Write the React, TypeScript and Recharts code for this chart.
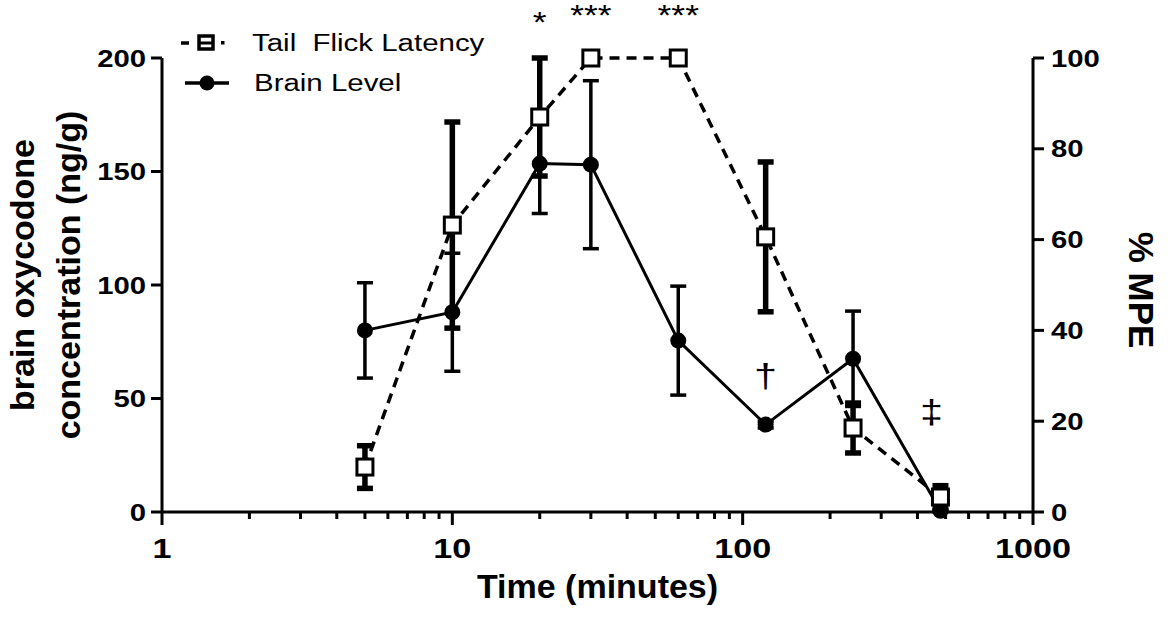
import React from "react";
import { ComposedChart, Line, XAxis, YAxis, ErrorBar, ReferenceDot } from "recharts";

const times = [5, 10, 20, 30, 60, 120, 240, 480];
const brainLevel = [80, 88, 153.5, 153, 75.5, 38.5, 67.5, 0.5];
const brainSem = [21, 26, 22, 37, 24, 1.5, 21, 0.5];
const tailFlick = [9.9, 63.2, 87, 100, 100, 60.6, 18.5, 3.3];
const tailFlickSem = [4.7, 22.7, 13, 0, 0, 16.5, 5.5, 2.5];

const xTicks = [
  1, 2, 3, 4, 5, 6, 7, 8, 9, 10, 20, 30, 40, 50, 60, 70, 80, 90, 100, 200, 300, 400, 500, 600, 700,
  800, 900, 1000,
];
const majorTicks = [1, 10, 100, 1000];
const leftTicks = [0, 50, 100, 150, 200];
const rightTicks = [0, 20, 40, 60, 80, 100];

// significance marks, placed in brain-level units
const annotations = [
  { time: 20, level: 211.5, text: "*" },
  { time: 30, level: 214.5, text: "***" },
  { time: 60, level: 214.5, text: "***" },
  { time: 120, level: 55, text: "\u2020" },
  { time: 447, level: 39, text: "\u2021" },
];

const data = times.map((t, i) => ({
  time: t,
  brain: brainLevel[i],
  brainErr: brainSem[i],
  tfl: tailFlick[i],
  tflErr: tailFlickSem[i],
}));

const FONT = "'Liberation Sans', Arial, sans-serif";
const STRETCH = 1.22;

const XTick = ({ x, y, payload }: any) => {
  const major = majorTicks.includes(payload.value);
  return (
    <g>
      <line x1={x} x2={x} y1={y} y2={y + (major ? 13 : 7)} stroke="#000" strokeWidth={3} />
      {major && (
        <text
          transform={`translate(${x},${y + 46}) scale(${STRETCH},1)`}
          textAnchor="middle"
          fontFamily={FONT}
          fontWeight="bold"
          fontSize={28}
          fill="#000"
        >
          {payload.value}
        </text>
      )}
    </g>
  );
};

const YTick = ({ x, y, payload, anchor }: any) => (
  <text
    transform={`translate(${x},${y}) scale(${STRETCH},1)`}
    textAnchor={anchor}
    dy="0.36em"
    fontFamily={FONT}
    fontWeight="bold"
    fontSize={24}
    fill="#000"
  >
    {payload.value}
  </text>
);

const SquareDot = ({ cx, cy }: any) => {
  if (cx == null || cy == null) return null;
  return <rect x={cx - 8} y={cy - 8} width={16} height={16} fill="#fff" stroke="#000" strokeWidth={3} />;
};

const CircleDot = ({ cx, cy }: any) => {
  if (cx == null || cy == null) return null;
  return <circle cx={cx} cy={cy} r={8} fill="#000" />;
};

const LeftLabel = ({ viewBox }: any) => {
  const cy = viewBox.y + viewBox.height / 2 - 10;
  return (
    <g fontFamily={FONT} fontWeight="bold" fontSize={34} fill="#000">
      <text transform={`translate(34,${cy}) rotate(-90)`} textAnchor="middle">
        brain oxycodone
      </text>
      <text transform={`translate(80,${cy}) rotate(-90)`} textAnchor="middle">
        concentration (ng/g)
      </text>
    </g>
  );
};

const RightLabel = ({ viewBox }: any) => {
  const cy = viewBox.y + viewBox.height / 2 + 5;
  return (
    <text
      transform={`translate(1129,${cy}) rotate(90)`}
      textAnchor="middle"
      fontFamily={FONT}
      fontWeight="bold"
      fontSize={35}
      fill="#000"
    >
      % MPE
    </text>
  );
};

const AnnotationShape = (text: string) => ({ cx, cy }: any) => (
  <text
    transform={`translate(${cx},${cy}) scale(${STRETCH},1)`}
    textAnchor="middle"
    fontFamily={FONT}
    fontSize={text === "*" || text === "***" ? 29 : 34}
    fill="#000"
  >
    {text}
  </text>
);

const legendText: React.CSSProperties = {
  display: "inline-block",
  fontFamily: FONT,
  fontSize: 23,
  whiteSpace: "pre",
  transform: `scaleX(1.28)`,
  transformOrigin: "left center",
  lineHeight: "26px",
};

export default function App() {
  return (
    <div style={{ position: "absolute", left: 0, top: 0, width: 1173, height: 620, background: "#fff" }}>
      <ComposedChart
        width={1173}
        height={620}
        data={data}
        margin={{ top: 58, right: 0, bottom: 0, left: 0 }}
        style={{ fontFamily: FONT }}
      >
        <XAxis
          dataKey="time"
          type="number"
          scale="log"
          domain={[1, 1000]}
          ticks={xTicks}
          interval={0}
          height={108}
          tickSize={0}
          tickMargin={0}
          tickLine={false}
          axisLine={{ stroke: "#000", strokeWidth: 3 }}
          tick={<XTick />}
          label={{
            value: "Time (minutes)",
            position: "insideBottom",
            offset: 22,
            fontFamily: FONT,
            fontWeight: "bold",
            fontSize: 34,
            fill: "#000",
          }}
        />
        <YAxis
          yAxisId="left"
          domain={[0, 200]}
          ticks={leftTicks}
          width={162}
          tickSize={11}
          tickMargin={5}
          tickLine={{ stroke: "#000", strokeWidth: 3 }}
          axisLine={{ stroke: "#000", strokeWidth: 3 }}
          tick={<YTick anchor="end" />}
          label={{ content: LeftLabel }}
        />
        <YAxis
          yAxisId="right"
          orientation="right"
          domain={[0, 100]}
          ticks={rightTicks}
          width={140}
          tickSize={11}
          tickMargin={7}
          tickLine={{ stroke: "#000", strokeWidth: 3 }}
          axisLine={{ stroke: "#000", strokeWidth: 3 }}
          tick={<YTick anchor="start" />}
          label={{ content: RightLabel }}
        />
        <Line
          yAxisId="left"
          dataKey="brain"
          stroke="#000"
          strokeWidth={3}
          dot={<CircleDot />}
          activeDot={false}
          isAnimationActive={false}
        >
          <ErrorBar dataKey="brainErr" direction="y" width={8} stroke="#000" strokeWidth={3.5} />
        </Line>
        <Line
          yAxisId="right"
          dataKey="tfl"
          stroke="#000"
          strokeWidth={3.5}
          strokeDasharray="10 7"
          dot={<SquareDot />}
          activeDot={false}
          isAnimationActive={false}
        >
          <ErrorBar dataKey="tflErr" direction="y" width={8} stroke="#000" strokeWidth={5.5} />
        </Line>
        {annotations.map((a, i) => (
          <ReferenceDot
            key={i}
            yAxisId="left"
            x={a.time}
            y={a.level}
            r={1}
            ifOverflow="visible"
            shape={AnnotationShape(a.text)}
          />
        ))}
      </ComposedChart>
      <div style={{ position: "absolute", left: 178, top: 28 }}>
        <div style={{ display: "flex", alignItems: "center", height: 30 }}>
          <svg width={60} height={20} style={{ marginRight: 14 }}>
            <line x1={3} x2={11} y1={10} y2={10} stroke="#000" strokeWidth={3.5} />
            <rect x={21} y={3} width={14} height={13} fill="#fff" stroke="#000" strokeWidth={3.5} />
            <line x1={21} x2={35} y1={10} y2={10} stroke="#000" strokeWidth={3} />
            <rect x={43} y={8} width={3.5} height={3.5} fill="#000" />
          </svg>
          <span style={legendText}>Tail  Flick Latency</span>
        </div>
        <div style={{ display: "flex", alignItems: "center", height: 30, marginTop: 10 }}>
          <svg width={60} height={20} style={{ marginRight: 16 }}>
            <line x1={7} x2={51} y1={10} y2={10} stroke="#000" strokeWidth={3.5} />
            <circle cx={29} cy={10} r={7.5} fill="#000" />
          </svg>
          <span style={legendText}>Brain Level</span>
        </div>
      </div>
    </div>
  );
}
